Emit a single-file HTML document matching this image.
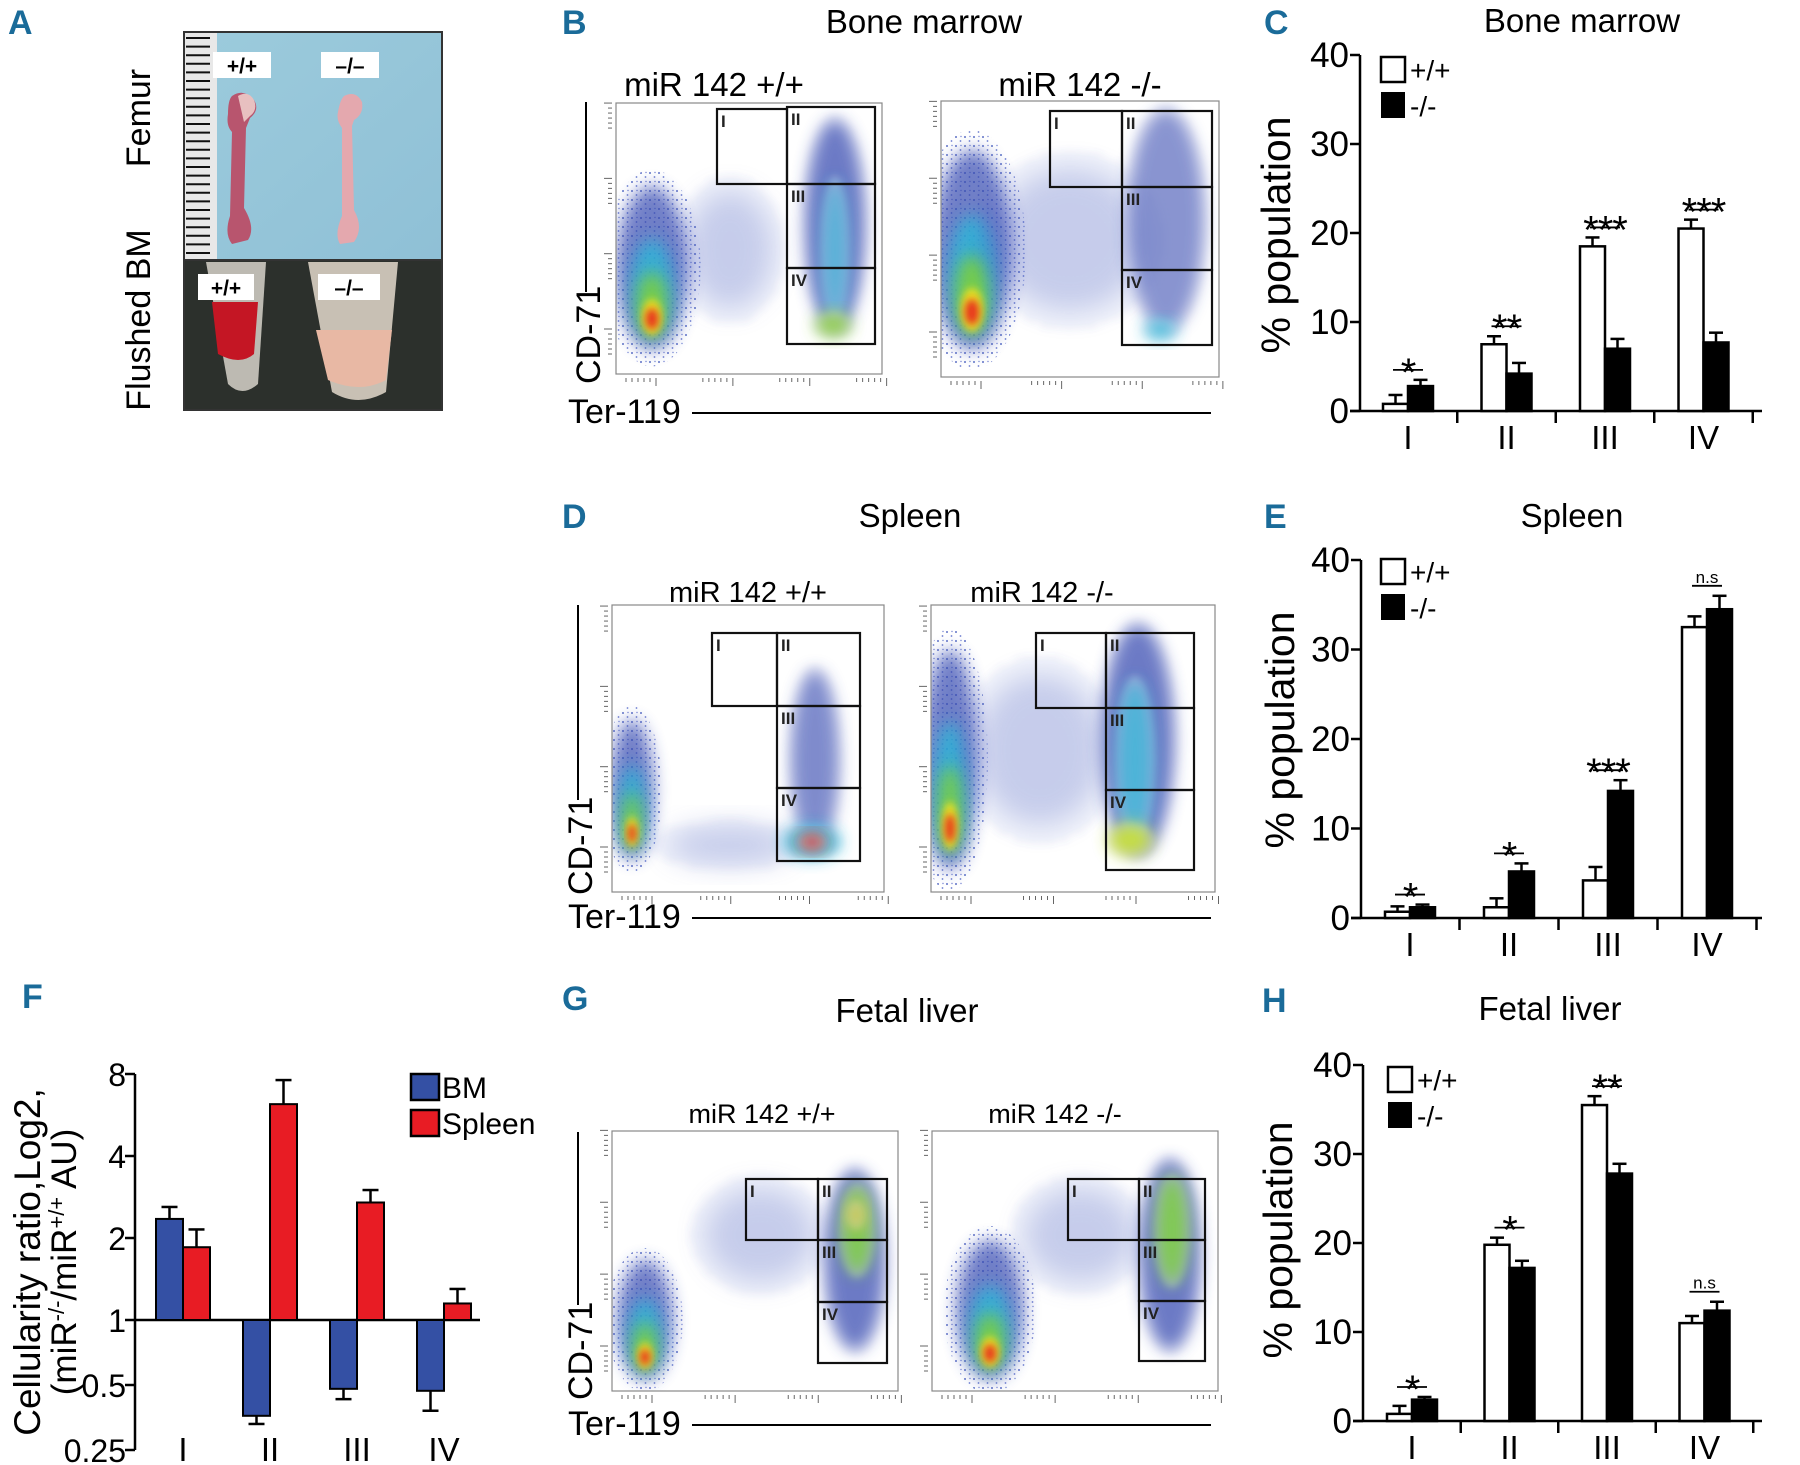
<!DOCTYPE html>
<html><head><meta charset="utf-8"><title>miR-142 erythropoiesis figure</title>
<style>
html,body{margin:0;padding:0;background:#fff;}
svg{display:block;font-family:"Liberation Sans",Arial,sans-serif;}
.pl{font-family:"Liberation Sans Narrow","Liberation Sans",sans-serif;font-weight:bold;fill:#1a6b99;font-size:34px;}
</style></head>
<body>
<svg id="fig" width="1800" height="1465" viewBox="0 0 1800 1465" xmlns="http://www.w3.org/2000/svg">
<defs>
<filter id="bl8" x="-50%" y="-50%" width="200%" height="200%"><feGaussianBlur stdDeviation="8"/></filter>
<filter id="bl4" x="-50%" y="-50%" width="200%" height="200%"><feGaussianBlur stdDeviation="4"/></filter>
<filter id="bl14" x="-50%" y="-50%" width="200%" height="200%"><feGaussianBlur stdDeviation="14"/></filter>
<pattern id="dots" width="5" height="5" patternUnits="userSpaceOnUse"><rect width="5" height="5" fill="#fff"/><circle cx="1.5" cy="1.5" r="1.1" fill="#3850b8"/><circle cx="4" cy="3.8" r="0.9" fill="#5566c8"/></pattern>
<pattern id="sparse" width="9" height="9" patternUnits="userSpaceOnUse"><circle cx="2" cy="2" r="1" fill="#3850b8"/><circle cx="6.5" cy="6" r="0.9" fill="#4a5ec4"/><circle cx="7" cy="1.5" r="0.7" fill="#5566c8"/></pattern>
<linearGradient id="femurbg" x1="0" y1="0" x2="1" y2="1"><stop offset="0" stop-color="#9ccbdc"/><stop offset="1" stop-color="#8fc0d6"/></linearGradient>
</defs>

<text class="pl" x="8" y="34">A</text>
<text class="pl" x="562" y="34">B</text>
<text class="pl" x="1264" y="34">C</text>
<text class="pl" x="562" y="528">D</text>
<text class="pl" x="1264" y="528">E</text>
<text class="pl" x="22" y="1008">F</text>
<text class="pl" x="562" y="1010">G</text>
<text class="pl" x="1262" y="1012">H</text>

<g>
  <rect x="184" y="32" width="258" height="228" fill="url(#femurbg)" stroke="#333" stroke-width="2"/>
  <rect x="185" y="33" width="32" height="226" fill="#e8e8e8"/>
  <g id="ruler"></g>
  <rect x="213" y="52" width="58" height="26" fill="#fff"/>
  <text x="242" y="73" font-size="21" text-anchor="middle" font-weight="bold">+/+</text>
  <rect x="321" y="52" width="58" height="26" fill="#fff"/>
  <text x="350" y="73" font-size="21" text-anchor="middle" font-weight="bold">–/–</text>
  <path d="M232 96 q12-8 22 4 q6 10-4 18 l-4 10 l-2 80 q12 20 4 32 l-16 4 q-8-10-2-28 l2-84 q-6-6-4-18 q0-14 4-18z" fill="#b8556e"/>
  <path d="M238 96 q10-6 16 4 q4 10-4 16 l-6 6 z" fill="#e8c0c0"/>
  <path d="M344 96 q12-6 18 6 q2 12-8 18 l-2 6 l2 84 q10 18 0 32 l-14 2 q-6-10 2-28 l0-88 q-6-8-4-16 q2-12 6-16z" fill="#e4a8ae"/>
  <rect x="184" y="260" width="258" height="150" fill="#2c302c" stroke="#333" stroke-width="2"/>
  <path d="M206 262 l60 0 l-8 122 q-16 14-30 0 z" fill="#bdbab2"/>
  <path d="M212 302 l46 0 l-4 52 q-14 12-36 0 z" fill="#c41624"/>
  <path d="M308 262 l90 0 l-12 130 q-28 16-54 0 z" fill="#c8c0b4"/>
  <path d="M316 330 l76 0 l-6 50 q-26 14-58 0 z" fill="#e8b8a4"/>
  <rect x="198" y="274" width="56" height="26" fill="#fff"/>
  <text x="226" y="295" font-size="21" text-anchor="middle" font-weight="bold">+/+</text>
  <rect x="318" y="274" width="62" height="26" fill="#fff"/>
  <text x="349" y="295" font-size="21" text-anchor="middle" font-weight="bold">–/–</text>
  <text transform="translate(150,118) rotate(-90)" font-size="34" text-anchor="middle">Femur</text>
  <text transform="translate(150,320) rotate(-90)" font-size="34" text-anchor="middle">Flushed BM</text>
</g>

<text x="924" y="33" font-size="33" text-anchor="middle">Bone marrow</text>
<text x="714" y="96" font-size="33" text-anchor="middle">miR 142 +/+</text>
<text x="1080" y="96" font-size="33" text-anchor="middle">miR 142 -/-</text>
<text x="910" y="527" font-size="33" text-anchor="middle">Spleen</text>
<text x="748" y="602" font-size="29" text-anchor="middle">miR 142 +/+</text>
<text x="1042" y="602" font-size="29" text-anchor="middle">miR 142 -/-</text>
<text x="907" y="1022" font-size="33" text-anchor="middle">Fetal liver</text>
<text x="762" y="1123" font-size="27" text-anchor="middle">miR 142 +/+</text>
<text x="1055" y="1123" font-size="27" text-anchor="middle">miR 142 -/-</text>

<g id="flows"></g>
<g id="charts"></g>
</svg>

<script>
var stageCategories = ["I","II","III","IV"];
var yTicksPct = [0,10,20,30,40];

var bmWT = [0.8, 7.5, 18.5, 20.5];
var bmWTErr = [1.0, 0.9, 1.0, 1.0];
var bmKO = [2.8, 4.2, 7.0, 7.7];
var bmKOErr = [0.7, 1.2, 1.1, 1.1];
var bmSig = ["*","**","***","***"];

var spWT = [0.7, 1.2, 4.2, 32.5];
var spWTErr = [0.6, 1.0, 1.5, 1.2];
var spKO = [1.2, 5.2, 14.2, 34.5];
var spKOErr = [0.3, 0.9, 1.2, 1.5];
var spSig = ["*","*","***","n.s"];

var flWT = [0.8, 19.8, 35.5, 11.0];
var flWTErr = [0.9, 0.8, 1.0, 0.8];
var flKO = [2.4, 17.2, 27.8, 12.4];
var flKOErr = [0.3, 0.8, 1.1, 1.0];
var flSig = ["*","*","**","n.s"];

var ratioTicks = [0.25, 0.5, 1, 2, 4, 8];
var ratioTickLabels = ["0.25","0.5","1","2","4","8"];
var ratioBM = [2.35, 0.36, 0.48, 0.47];
var ratioBMErrEnd = [2.6, 0.33, 0.43, 0.38];
var ratioSpleen = [1.85, 6.2, 2.7, 1.15];
var ratioSpleenErrEnd = [2.15, 7.6, 3.0, 1.3];

var NS = "http://www.w3.org/2000/svg";
function mk(tag, attrs, parent){
  var e = document.createElementNS(NS, tag);
  for (var k in attrs) e.setAttribute(k, attrs[k]);
  if (parent) parent.appendChild(e);
  return e;
}
var charts = document.getElementById('charts');

(function(){
  var r = document.getElementById('ruler');
  for (var y = 38; y < 258; y += 8.6){
    mk('line',{x1:186,x2:210,y1:y,y2:y,stroke:'#111','stroke-width':2},r);
  }
})();

function pctChart(cfg){
  var g = mk('g',{},charts);
  
  
  var y = function(v){ return cfg.y0 - (cfg.y0 - cfg.y40) * v / 40; };
  var x = function(i){ return cfg.c0 + i * cfg.step; };
  var t = mk('text',{x:cfg.titleX,y:cfg.titleY,'font-size':33,'text-anchor':'middle'},g);
  t.textContent = cfg.title;
  
  
  var ya = mk('line',{x1:cfg.ax,x2:cfg.ax,y1:y(40),y2:y(0),stroke:'#000','stroke-width':2.5},g);
  
  
  yTicksPct.forEach(function(v){
    mk('line',{x1:cfg.ax-10,x2:cfg.ax,y1:y(v),y2:y(v),stroke:'#000','stroke-width':2.5},g);
    var tl = mk('text',{x:cfg.ax-11,y:y(v)+12,'font-size':35,'text-anchor':'end'},g);
    tl.textContent = v;
    
    
  });
  var yt = mk('text',{transform:'translate('+cfg.ytX+','+cfg.ytY+') rotate(-90)','font-size':41,'text-anchor':'middle'},g);
  yt.textContent = '% population';
  
  
  var xa = mk('line',{x1:cfg.ax-10,x2:cfg.xEnd,y1:y(0),y2:y(0),stroke:'#000','stroke-width':2.5},g);
  
  
  for (var i = 0; i < stageCategories.length; i++){
    var tx = x(i) + cfg.step/2;
    mk('line',{x1:tx,x2:tx,y1:y(0),y2:y(0)+12,stroke:'#000','stroke-width':2.5},g);
    var cl = mk('text',{x:x(i),y:y(0)+38,'font-size':33,'text-anchor':'middle'},g);
    cl.textContent = stageCategories[i];
    
    
  }
  var bw = 25;
  for (var i = 0; i < stageCategories.length; i++){
    var cx = x(i);
    [[cfg.wt[i],cfg.wtErr[i],cx-bw/2],[cfg.ko[i],cfg.koErr[i],cx+bw/2]].forEach(function(d){
      mk('line',{x1:d[2],x2:d[2],y1:y(d[0]),y2:y(d[0]+d[1]),stroke:'#000','stroke-width':2.5},g);
      mk('line',{x1:d[2]-7,x2:d[2]+7,y1:y(d[0]+d[1]),y2:y(d[0]+d[1]),stroke:'#000','stroke-width':2.5},g);
    });
    var b1 = mk('rect',{x:cx-bw,y:y(cfg.wt[i]),width:bw,height:y(0)-y(cfg.wt[i]),fill:'#fff',stroke:'#000','stroke-width':2.5},g);
    
    
    var b2 = mk('rect',{x:cx,y:y(cfg.ko[i]),width:bw,height:y(0)-y(cfg.ko[i]),fill:'#000',stroke:'#000','stroke-width':2.5},g);
    
    
    var top = Math.max(cfg.wt[i]+cfg.wtErr[i], cfg.ko[i]+cfg.koErr[i]);
    var ly = y(top) - 10;
    mk('line',{x1:cx-15,x2:cx+15,y1:ly,y2:ly,stroke:'#000','stroke-width':1.8},g);
    var ns = cfg.sig[i] === 'n.s';
    var st = mk('text',{x:cx,y:ns? ly-3 : ly+16,'font-size':ns?17:40,'text-anchor':'middle','letter-spacing':ns?0:-1},g);
    st.textContent = cfg.sig[i];
    
    
  }
  var lx = cfg.legX, ly0 = cfg.legY;
  var l1 = mk('rect',{x:lx,y:ly0,width:24,height:25,fill:'#fff',stroke:'#000','stroke-width':2.5},g);
  
  
  var lt1 = mk('text',{x:lx+29,y:ly0+23,'font-size':28},g);
  lt1.textContent = '+/+';
  
  
  var l2 = mk('rect',{x:lx,y:ly0+35,width:24,height:26,fill:'#000'},g);
  
  
  var lt2 = mk('text',{x:lx+29,y:ly0+59,'font-size':28},g);
  lt2.textContent = '-/-';
  
  
}

pctChart({name:'chart-c-bone-marrow',title:'Bone marrow',titleX:1582,titleY:32,ax:1360,y0:411,y40:55,c0:1408,step:98.5,xEnd:1762,
  wt:bmWT,wtErr:bmWTErr,ko:bmKO,koErr:bmKOErr,sig:bmSig,ytX:1290,ytY:235,legX:1381,legY:57});
pctChart({name:'chart-e-spleen',title:'Spleen',titleX:1572,titleY:527,ax:1361,y0:918,y40:560,c0:1410,step:99,xEnd:1762,
  wt:spWT,wtErr:spWTErr,ko:spKO,koErr:spKOErr,sig:spSig,ytX:1294,ytY:730,legX:1381,legY:559});
pctChart({name:'chart-h-fetal-liver',title:'Fetal liver',titleX:1550,titleY:1020,ax:1363,y0:1421,y40:1065,c0:1412,step:97.5,xEnd:1762,
  wt:flWT,wtErr:flWTErr,ko:flKO,koErr:flKOErr,sig:flSig,ytX:1292,ytY:1240,legX:1388,legY:1067});

(function(){
  var g = mk('g',{},charts);
  
  
  var y0 = 1320;
  var y = function(v){ var l = Math.log(v)/Math.LN2; return l >= 0 ? y0 - l*82 : y0 + (-l)*65; };
  var ax = 135;
  var x = function(i){ return 183 + i*87; };
  var ya = mk('line',{x1:ax,x2:ax,y1:y(8),y2:y(0.25),stroke:'#000','stroke-width':2.5},g);
  
  
  ratioTicks.forEach(function(v,k){
    mk('line',{x1:ax-10,x2:ax,y1:y(v),y2:y(v),stroke:'#000','stroke-width':2.5},g);
    var tl = mk('text',{x:ax-9,y:y(v)+12,'font-size':32,'text-anchor':'end'},g);
    tl.textContent = ratioTickLabels[k];
    
    
  });
  var xa = mk('line',{x1:ax,x2:480,y1:y(1),y2:y(1),stroke:'#000','stroke-width':2.5},g);
  
  
  var bw = 27;
  for (var i = 0; i < stageCategories.length; i++){
    var cx = x(i);
    var bmTop = Math.min(y(ratioBM[i]), y(1)), bmH = Math.abs(y(ratioBM[i]) - y(1));
    var spTop = Math.min(y(ratioSpleen[i]), y(1)), spH = Math.abs(y(ratioSpleen[i]) - y(1));
    mk('line',{x1:cx-bw/2,x2:cx-bw/2,y1:y(ratioBM[i]),y2:y(ratioBMErrEnd[i]),stroke:'#000','stroke-width':2.5},g);
    mk('line',{x1:cx-bw/2-8,x2:cx-bw/2+8,y1:y(ratioBMErrEnd[i]),y2:y(ratioBMErrEnd[i]),stroke:'#000','stroke-width':2.5},g);
    mk('line',{x1:cx+bw/2,x2:cx+bw/2,y1:y(ratioSpleen[i]),y2:y(ratioSpleenErrEnd[i]),stroke:'#000','stroke-width':2.5},g);
    mk('line',{x1:cx+bw/2-8,x2:cx+bw/2+8,y1:y(ratioSpleenErrEnd[i]),y2:y(ratioSpleenErrEnd[i]),stroke:'#000','stroke-width':2.5},g);
    var b1 = mk('rect',{x:cx-bw,y:bmTop,width:bw,height:bmH,fill:'#3450a4',stroke:'#000','stroke-width':2},g);
    
    
    var b2 = mk('rect',{x:cx,y:spTop,width:bw,height:spH,fill:'#e81c24',stroke:'#000','stroke-width':2},g);
    
    
    var cl = mk('text',{x:cx,y:1461,'font-size':33,'text-anchor':'middle'},g);
    cl.textContent = stageCategories[i];
    
    
  }
  var t1 = mk('text',{transform:'translate(40,1262) rotate(-90)','font-size':37,'text-anchor':'middle'},g);
  t1.textContent = 'Cellularity ratio,Log2,';
  
  
  var t2 = mk('text',{transform:'translate(76,1262) rotate(-90)','font-size':35,'text-anchor':'middle'},g);
  t2.innerHTML = '(miR<tspan baseline-shift="super" font-size="22">-/-</tspan>/miR<tspan baseline-shift="super" font-size="22">+/+</tspan> AU)';
  
  
  var s1 = mk('rect',{x:411,y:1074,width:28,height:26,fill:'#3450a4',stroke:'#000','stroke-width':2.5},g);
  
  
  var lt1 = mk('text',{x:442,y:1098,'font-size':30},g);
  lt1.textContent = 'BM';
  
  
  var s2 = mk('rect',{x:411,y:1110,width:28,height:26,fill:'#e81c24',stroke:'#000','stroke-width':2.5},g);
  
  
  var lt2 = mk('text',{x:442,y:1134,'font-size':30},g);
  lt2.textContent = 'Spleen';
  
  
})();

var flows = document.getElementById('flows');
function blob(g, cx, cy, rx, ry, col, op, f){
  mk('ellipse',{cx:cx,cy:cy,rx:rx,ry:ry,fill:col,opacity:op,filter:'url(#'+f+')'},g);
}
function flowPlot(name, box, gates, clouds, streak){
  var g = mk('g',{},flows);
  
  
  var clipId = name + '-clip';
  var cp = mk('clipPath',{id:clipId},g);
  mk('rect',{x:box[0],y:box[1],width:box[2]-box[0],height:box[3]-box[1]},cp);
  var inner = mk('g',{'clip-path':'url(#'+clipId+')'},g);
  clouds.forEach(function(c){
    if (c[4] > 0) {
      mk('ellipse',{cx:c[0],cy:c[1],rx:c[2]*1.35,ry:c[3]*1.2,fill:'url(#sparse)',opacity:0.8},inner);
      blob(inner,c[0],c[1],c[2],c[3],'#3548b0',0.7,'bl8');
      blob(inner,c[0],c[1]+c[3]*0.25,c[2]*0.6,c[3]*0.6,'#2cb8d8',0.8,'bl8');
      blob(inner,c[0],c[1]+c[3]*0.45,c[2]*0.42,c[3]*0.4,'#7ccf3c',0.9,'bl8');
      blob(inner,c[0],c[1]+c[3]*0.6,c[2]*0.28,c[3]*0.22,'#f0e020',0.95,'bl4');
      blob(inner,c[0],c[1]+c[3]*0.62,c[2]*0.18,c[3]*0.13,'#e82a1c',0.95,'bl4');
    } else {
      // diffuse scattered cells
      mk('ellipse',{cx:c[0],cy:c[1],rx:c[2],ry:c[3],fill:'url(#sparse)',opacity:0.75,filter:'url(#bl4)'},inner);
      blob(inner,c[0],c[1],c[2]*0.8,c[3]*0.8,'#4558bc',0.25,'bl14');
    }
  });
  streak.forEach(function(s){
    mk('ellipse',{cx:s[0],cy:s[1],rx:s[2]*1.1,ry:s[3]*1.05,fill:'url(#dots)',opacity:0.45,filter:'url(#bl4)'},inner);
    blob(inner,s[0],s[1],s[2],s[3],s[4],s[5],'bl8');
  });
  var fr = mk('rect',{x:box[0],y:box[1],width:box[2]-box[0],height:box[3]-box[1],fill:'none',stroke:'#888','stroke-width':1.2},g);
  
  
  for (var k = 0; k < 4; k++){
    var tx = box[0] + 10 + k*(box[2]-box[0]-20)/3.2;
    for (var m = 0; m < 6; m++) mk('line',{x1:tx+m*6,x2:tx+m*6,y1:box[3]+4,y2:box[3]+(m==5?12:8),stroke:'#666','stroke-width':1},g);
    var ty = box[3] - 20 - k*(box[3]-box[1]-30)/3.2;
    for (var m = 0; m < 6; m++) mk('line',{x1:box[0]-4,x2:box[0]-(m==5?12:8),y1:ty-m*5,y2:ty-m*5,stroke:'#666','stroke-width':1},g);
  }
  var labels = ['I','II','III','IV'];
  gates.forEach(function(gt,k){
    var r = mk('rect',{x:gt[0],y:gt[1],width:gt[2]-gt[0],height:gt[3]-gt[1],fill:'none',stroke:'#111','stroke-width':2.2},g);
    
    
    var t = mk('text',{x:gt[0]+4,y:gt[1]+18,'font-size':17,'font-weight':'bold',fill:'#222'},g);
    t.textContent = labels[k];
  });
}
function axisLabels(cdX, cdY, lineTop, lineBot, terY, terEnd){
  mk('line',{x1:cdX-14,x2:cdX-14,y1:lineTop,y2:lineBot,stroke:'#000','stroke-width':2},flows);
  var t = mk('text',{transform:'translate('+cdX+','+cdY+') rotate(-90)','font-size':34,'text-anchor':'start'},flows);
  t.textContent = 'CD-71';
  
  
  var t2 = mk('text',{x:568,y:terY,'font-size':34},flows);
  t2.textContent = 'Ter-119';
  
  
  mk('line',{x1:692,x2:terEnd,y1:terY-10,y2:terY-10,stroke:'#000','stroke-width':2},flows);
}

flowPlot('flow-bm-wt',[616,103,882,374],
  [[717,109,787,184],[787,107,875,184],[787,184,875,268],[787,268,875,344]],
  [[652,268,36,82,1],[730,250,55,75,0]],
  [[835,225,30,105,'#3548b0',0.7],[835,250,13,70,'#2cb8d8',0.6],[833,325,18,12,'#8fd040',0.9]]);
flowPlot('flow-bm-ko',[941,101,1219,377],
  [[1050,111,1122,187],[1122,111,1212,187],[1122,187,1212,270],[1122,270,1212,345]],
  [[972,250,40,100,1],[1070,240,95,90,0]],
  [[1166,220,38,110,'#3548b0',0.55],[1160,330,16,10,'#2cb8d8',0.8]]);
axisLabels(600, 384, 102, 292, 423, 1211);

flowPlot('flow-spleen-wt',[612,605,884,892],
  [[712,633,777,706],[777,633,860,706],[777,706,860,788],[777,788,860,861]],
  [[632,790,22,70,1],[730,845,80,25,0]],
  [[815,760,24,90,'#3548b0',0.6],[812,842,28,16,'#2cb8d8',0.9],[812,842,14,8,'#e82a1c',0.95]]);
flowPlot('flow-spleen-ko',[931,605,1215,892],
  [[1036,633,1106,708],[1106,633,1194,708],[1106,708,1194,790],[1106,790,1194,870]],
  [[950,760,28,110,1],[1040,750,80,95,0]],
  [[1138,740,36,115,'#3548b0',0.7],[1135,760,18,80,'#2cb8d8',0.7],[1130,840,22,16,'#c8e030',0.9]]);
axisLabels(592, 895, 605, 800, 928, 1211);

flowPlot('flow-fl-wt',[612,1131,898,1391],
  [[746,1179,818,1240],[818,1179,887,1240],[818,1240,887,1302],[818,1302,887,1363]],
  [[645,1320,28,60,1],[760,1235,70,60,0]],
  [[855,1260,30,90,'#3548b0',0.7],[857,1230,16,45,'#7ccf3c',0.85],[856,1215,8,14,'#e0c030',0.8]]);
flowPlot('flow-fl-ko',[932,1131,1218,1391],
  [[1068,1179,1139,1240],[1139,1179,1205,1240],[1139,1240,1205,1301],[1139,1301,1205,1361]],
  [[990,1310,34,70,1],[1080,1235,70,60,0]],
  [[1170,1255,30,95,'#3548b0',0.7],[1172,1230,16,55,'#7ccf3c',0.85]]);
axisLabels(592, 1400, 1132, 1305, 1435, 1211);
</script>
</body></html>
